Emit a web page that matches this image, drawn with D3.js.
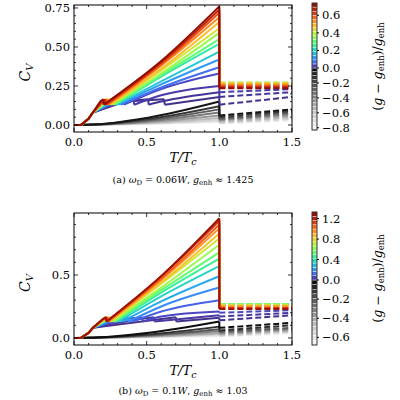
<!DOCTYPE html>
<html><head><meta charset="utf-8">
<script src="https://cdn.jsdelivr.net/npm/d3@7"></script>
<style>body{margin:0;background:#fff}text{font-family:"DejaVu Serif",serif}</style>
</head><body><div id="chart"></div>
<script>
// panel (a): omega_D = 0.06W
const gA      = [0.72,0.66,0.6,0.54,0.48,0.42,0.36,0.3,0.24,0.18,0.12,0.07,0.03,0.015,0.006,0.002];
const peakA   = [0.76,0.74,0.72,0.69,0.66,0.62,0.59,0.55,0.52,0.47,0.42,0.37,0.33,0.25,0.21,0.18];
const midA    = [0.41,0.40,0.39,0.38,0.36,0.35,0.33,0.32,0.31,0.28,0.26,0.24,0.23,0.19,0.15,0.14];
const kneeA   = [0.18,0.19,0.2,0.2,0.21,0.22,0.22,0.23,0.24,0.25,0.27,0.28,0.3,0.31,0.33,0.35];
const dropA   = [0.2,0.21,0.22,0.23,0.24,0.25,0.26,0.27,0.28,0.29,0.3,0.32,0.34,0.41,0.51,0.62];
const postA0  = [0.235,0.24,0.25,0.26,0.265,0.27,0.27,0.27,0.265,0.26,0.255,0.25,0.245,0.21,0.18,0.13];
const postA1  = [0.235,0.24,0.25,0.26,0.265,0.27,0.27,0.27,0.265,0.26,0.255,0.25,0.245,0.23,0.21,0.18];
const gAneg     = [-0.05,-0.15,-0.25,-0.35,-0.45,-0.55,-0.65,-0.75];
const peakAneg  = [0.15,0.12,0.1,0.08,0.06,0.045,0.03,0.02];
const postAneg0 = [0.06,0.05,0.04,0.035,0.03,0.02,0.015,0.01];
const postAneg1 = [0.1,0.09,0.08,0.07,0.06,0.05,0.04,0.03];
// panel (b): omega_D = 0.1W
const gB      = [1.25,1.15,1.05,0.95,0.85,0.75,0.65,0.55,0.45,0.35,0.25,0.18,0.1,0.05,0.02,0.005];
const peakB   = [0.95,0.93,0.9,0.87,0.83,0.79,0.74,0.68,0.63,0.57,0.49,0.4,0.3,0.21,0.18,0.16];
const midB    = [0.49,0.49,0.47,0.46,0.44,0.43,0.40,0.38,0.36,0.33,0.29,0.25,0.21,0.17,0.16,0.15];
const kneeB   = [0.2,0.2,0.2,0.21,0.21,0.22,0.22,0.23,0.24,0.25,0.26,0.28,0.3,0.35,0.45,0.6];
const dropB   = [0.22,0.22,0.23,0.23,0.24,0.25,0.26,0.27,0.28,0.3,0.33,0.37,0.4,0.47,0.55,0.7];
const postB0  = [0.23,0.235,0.24,0.25,0.255,0.26,0.265,0.27,0.27,0.27,0.265,0.26,0.25,0.2,0.17,0.14];
const postB1  = [0.23,0.235,0.24,0.25,0.255,0.26,0.265,0.27,0.27,0.27,0.265,0.26,0.26,0.22,0.2,0.18];
const gBneg     = [-0.02,-0.1,-0.2,-0.3,-0.4,-0.5,-0.6,-0.7];
const peakBneg  = [0.13,0.09,0.07,0.055,0.04,0.03,0.02,0.01];
const postBneg0 = [0.08,0.06,0.05,0.04,0.03,0.02,0.015,0.01];
const postBneg1 = [0.12,0.1,0.08,0.07,0.06,0.05,0.04,0.03];

const xTicks = [0, 0.5, 1, 1.5];
const panels = [
  {top:5, bottom:132, yDom:[-0.045,0.769], yTicks:[0,0.25,0.5,0.75], yMinor:0.05, fmt:d3.format(".2f"),
   g:gA, peak:peakA, mid:midA, knee:kneeA, drop:dropA, p0:postA0, p1:postA1,
   gn:gAneg, pn:peakAneg, pn0:postAneg0, pn1:postAneg1,
   cb:{top:3, bottom:130, max:0.74, min:-0.83, ticks:[0.6,0.4,0.2,0,-0.2,-0.4,-0.6,-0.8]},
   cap:["(a) ", "ω", "D", " = 0.06", "W", ", ", "g", "enh", " ≈ 1.425"], capY:183},
  {top:213, bottom:345, yDom:[-0.056,0.992], yTicks:[0,0.5], yMinor:0.1, fmt:d3.format(".1f"),
   g:gB, peak:peakB, mid:midB, knee:kneeB, drop:dropB, p0:postB0, p1:postB1,
   gn:gBneg, pn:peakBneg, pn0:postBneg0, pn1:postBneg1,
   cb:{top:212, bottom:345, max:1.33, min:-0.68, ticks:[1.2,0.8,0.4,0,-0.2,-0.4,-0.6]},
   cap:["(b) ", "ω", "D", " = 0.1", "W", ", ", "g", "enh", " ≈ 1.03"], capY:394}
];

const svg = d3.select("#chart").append("svg").attr("width",400).attr("height",400);
const x = d3.scaleLinear().domain([0,1.5]).range([74,292]);

function colorOf(g, cb){
  if (g >= 0) return d3.interpolateTurbo(0.04 + 0.96*g/cb.max);
  return d3.interpolateGreys(0.98 - 0.9*(-g)/(-cb.min));
}

panels.forEach(p => {
  const y = d3.scaleLinear().domain(p.yDom).range([p.bottom,p.top]);
  const line = d3.line().x(d=>x(d[0])).y(d=>y(d[1])).curve(d3.curveMonotoneX);
  const lin = d3.line().x(d=>x(d[0])).y(d=>y(d[1]));
  const clip = "clip"+p.top;
  svg.append("clipPath").attr("id",clip).append("rect")
    .attr("x",74).attr("y",p.top).attr("width",218).attr("height",p.bottom-p.top);
  const g = svg.append("g").attr("clip-path",`url(#${clip})`);

  // gray (negative) curves, lightest first
  d3.range(p.gn.length-1,-1,-1).forEach(i => {
    const c = colorOf(p.gn[i], p.cb);
    g.append("path").attr("d", line([[0,0],[0.1,0.001],[0.5,0.3*p.pn[i]],[1,p.pn[i]]]))
      .attr("fill","none").attr("stroke",c).attr("stroke-width",2);
    g.append("path").attr("d", lin([[1,p.pn[i]],[1,p.pn0[i]]]))
      .attr("fill","none").attr("stroke",c).attr("stroke-width",2);
    g.append("path").attr("d", line([[1,p.pn0[i]],[1.5,p.pn1[i]]]))
      .attr("fill","none").attr("stroke",c).attr("stroke-width",2).attr("stroke-dasharray","6,3");
  });
  // colored (positive) curves, darkest first
  d3.range(p.g.length-1,-1,-1).forEach(i => {
    const c = colorOf(p.g[i], p.cb);
    const low = [[0,0],[0.05,0.002],[0.1,0.04],[0.13,0.08],[p.knee[i],0.15],[p.drop[i],0.165]];
    const high = [[p.drop[i]+0.004,0.13]];
    if (p.drop[i] < 0.55) high.push([0.6,p.mid[i]]);
    high.push([1,p.peak[i]]);
    g.append("path").attr("d", lin(low)).attr("fill","none").attr("stroke",c)
      .attr("stroke-width",2).attr("stroke-linejoin","round");
    g.append("path").attr("d", lin([low[low.length-1],high[0]])).attr("fill","none").attr("stroke",c)
      .attr("stroke-width",2);
    g.append("path").attr("d", line(high)).attr("fill","none").attr("stroke",c)
      .attr("stroke-width",2);
    g.append("path").attr("d", lin([[1,p.peak[i]],[1,p.p0[i]]])).attr("fill","none").attr("stroke",c)
      .attr("stroke-width",2);
    g.append("path").attr("d", lin([[1,p.p0[i]],[1.5,p.p1[i]]]))
      .attr("fill","none").attr("stroke",c).attr("stroke-width",2).attr("stroke-dasharray","6,3");
  });

  // frame and ticks
  svg.append("rect").attr("x",74).attr("y",p.top).attr("width",218).attr("height",p.bottom-p.top)
    .attr("fill","none").attr("stroke","#000").attr("stroke-width",1);
  const tk = svg.append("g").attr("stroke","#000").attr("stroke-width",0.8);
  d3.range(0,1.501,0.1).forEach(v => {
    const L = xTicks.some(t=>Math.abs(t-v)<1e-6) ? 4 : 2;
    tk.append("line").attr("x1",x(v)).attr("x2",x(v)).attr("y1",p.bottom).attr("y2",p.bottom-L);
    tk.append("line").attr("x1",x(v)).attr("x2",x(v)).attr("y1",p.top).attr("y2",p.top+L);
  });
  d3.range(0,p.yDom[1],p.yMinor).forEach(v => {
    const L = p.yTicks.some(t=>Math.abs(t-v)<1e-6) ? 4 : 2;
    tk.append("line").attr("x1",74).attr("x2",74+L).attr("y1",y(v)).attr("y2",y(v));
    tk.append("line").attr("x1",292).attr("x2",292-L).attr("y1",y(v)).attr("y2",y(v));
  });
  xTicks.forEach(v => svg.append("text").attr("x",x(v)).attr("y",p.bottom+14)
    .attr("text-anchor","middle").attr("font-size",11.5).text(d3.format(".1f")(v)));
  p.yTicks.forEach(v => svg.append("text").attr("x",70).attr("y",y(v)+4)
    .attr("text-anchor","end").attr("font-size",11.5).text(p.fmt(v)));

  const yl = svg.append("text").attr("font-size",14).attr("text-anchor","middle")
    .attr("transform",`translate(30,${(p.top+p.bottom)/2+4}) rotate(-90)`);
  yl.append("tspan").attr("font-style","italic").text("C");
  yl.append("tspan").attr("font-style","italic").attr("font-size",10).attr("dy",3).text("V");
  const xl = svg.append("text").attr("x",x(0.75)).attr("y",p.bottom+30).attr("font-size",13)
    .attr("text-anchor","middle").attr("font-style","italic");
  xl.append("tspan").text("T/T");
  xl.append("tspan").attr("font-size",9.5).attr("dy",3).text("c");

  const cap = svg.append("text").attr("x",183).attr("y",p.capY).attr("font-size",9.5).attr("text-anchor","middle");
  const it = [false,true,false,false,true,false,true,false,false], sub=[false,false,true,false,false,false,false,true,false];
  p.cap.forEach((s,k) => {
    const t = cap.append("tspan").text(s);
    if (it[k]) t.attr("font-style","italic");
    if (sub[k]) t.attr("font-size",7).attr("dy",2);
    else if (k>0 && sub[k-1]) t.attr("dy",-2);
  });

  // colorbar
  const cb = p.cb;
  const zeroY = p.top<100 ? 68 : 280;
  const cy = d3.scaleLinear().domain([cb.min,0,cb.max]).range([cb.bottom, zeroY, cb.top]);
  const cgv = [];
  const nPos = 16, nNeg = p.top<100 ? 16 : 14;
  d3.range(nNeg).forEach(k => cgv.push([cb.min*(k+1)/nNeg, cb.min*k/nNeg]));
  d3.range(nPos).forEach(k => cgv.push([cb.max*k/nPos, cb.max*(k+1)/nPos]));
  cgv.forEach(([a,b]) => svg.append("rect").attr("x",312).attr("width",5)
    .attr("y",cy(b)).attr("height",Math.max(0.5,cy(a)-cy(b)))
    .attr("fill",colorOf((a+b)/2,cb)).attr("stroke","#fff").attr("stroke-width",0.4));
  svg.append("rect").attr("x",312).attr("width",5).attr("y",cb.top).attr("height",cb.bottom-cb.top)
    .attr("fill","none").attr("stroke","#000").attr("stroke-width",0.8);
  cb.ticks.forEach(v => {
    svg.append("line").attr("x1",317).attr("x2",319).attr("y1",cy(v)).attr("y2",cy(v)).attr("stroke","#000");
    svg.append("text").attr("x",322).attr("y",cy(v)+4).attr("font-size",11.5)
      .text(v<0 ? "−"+d3.format(".1f")(-v) : d3.format(".1f")(v));
  });
  const cl = svg.append("text").attr("font-size",12.5).attr("text-anchor","middle")
    .attr("transform",`translate(382,${(cb.top+cb.bottom)/2}) rotate(-90)`);
  cl.append("tspan").text("(");
  cl.append("tspan").attr("font-style","italic").text("g");
  cl.append("tspan").text(" − ");
  cl.append("tspan").attr("font-style","italic").text("g");
  cl.append("tspan").attr("font-size",8.5).attr("dy",2).text("enh");
  cl.append("tspan").attr("dy",-2).text(")/");
  cl.append("tspan").attr("font-style","italic").text("g");
  cl.append("tspan").attr("font-size",8.5).attr("dy",2).text("enh");
});
</script></body></html>
